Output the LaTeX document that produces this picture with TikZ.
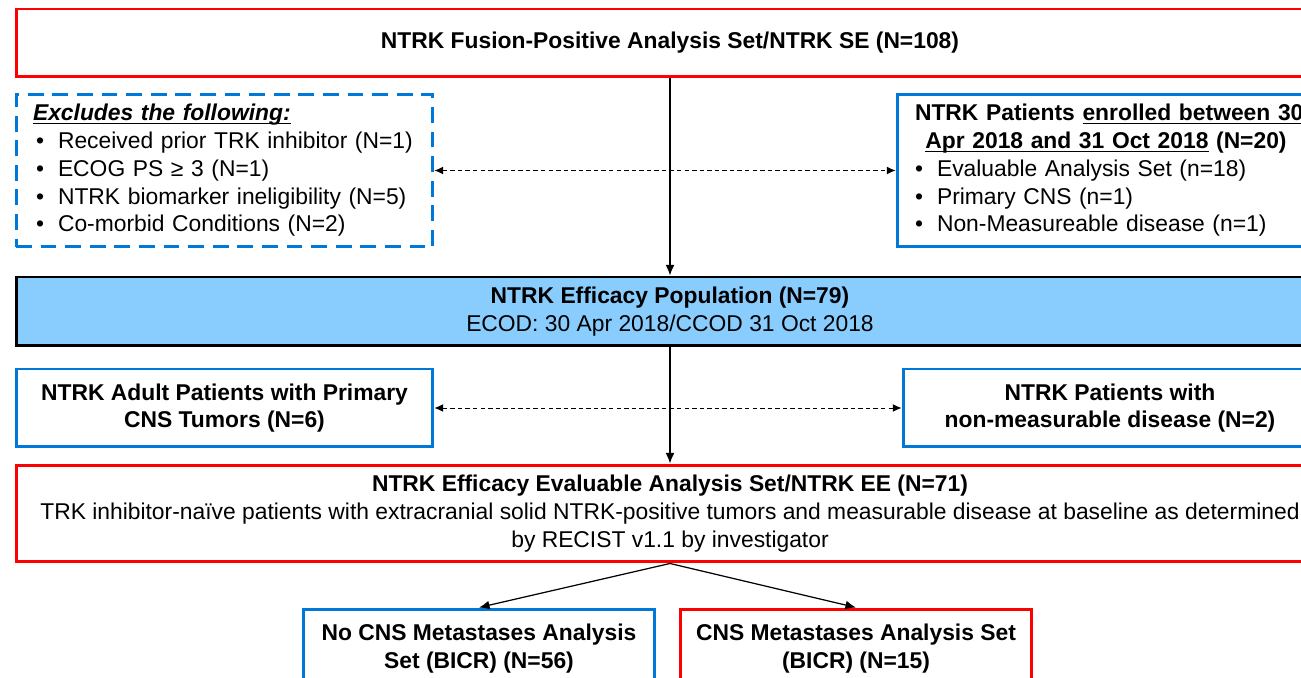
\documentclass[tikz,border=0pt]{standalone}
\usepackage{fontspec}
\setmainfont{Liberation Sans}
\usetikzlibrary{arrows.meta}
\definecolor{boxred}{RGB}{255,0,0}
\definecolor{boxblue}{RGB}{0,120,215}
\definecolor{efffill}{RGB}{137,205,255}
\newcommand{\undl}[1]{\underline{\raisebox{0pt}[\height][0pt]{#1}}}
\begin{document}
\begin{tikzpicture}[x=0.02cm,y=-0.02cm,
		every node/.style={font=\fontsize{13pt}{15.8pt}\selectfont, inner sep=0pt},
		redbox/.style={draw=boxred, line width=1.7pt, align=center},
		bluebox/.style={draw=boxblue, line width=1.7pt, align=center},
		dashbox/.style={draw=boxblue, line width=1.7pt, dash pattern=on 9pt off 5pt},
		effbox/.style={draw=black, fill=efffill, line width=1.7pt, align=center},
		arr/.style={-{Latex[length=6pt,width=5pt]}, line width=0.7pt},
		darr/.style={{Latex[length=5pt,width=4.5pt]}-{Latex[length=5pt,width=4.5pt]}, line width=0.5pt, dash pattern=on 2.5pt off 1.8pt}]
	\useasboundingbox (0,0) rectangle (1301,678);
	\clip (0,0) rectangle (1301,678);
	\node (Fu) at (670,43) [redbox, minimum width=26.16cm, minimum height=1.36cm] {\bfseries NTRK Fusion-Positive Analysis Set/NTRK SE (N=108)};
	\node (Ex) at (224.5,170.5) [dashbox, text width=7.66cm, inner xsep=0.34cm, minimum height=3.06cm, align=left]
		{\textbf{\textit{\undl{Excludes the following:}}}\\
		\hspace*{0.06cm}\textbullet\hspace{0.28cm}Received prior TRK inhibitor (N=1)\\
		\hspace*{0.06cm}\textbullet\hspace{0.28cm}ECOG PS ≥ 3 (N=1)\\
		\hspace*{0.06cm}\textbullet\hspace{0.28cm}NTRK biomarker ineligibility (N=5)\\
		\hspace*{0.06cm}\textbullet\hspace{0.28cm}Co-morbid Conditions (N=2)};
	\node (En) at (1106,170.5) [bluebox, text width=7.64cm, inner xsep=0.36cm, minimum height=3.06cm, align=left]
		{{\centering\bfseries\mbox{NTRK Patients \undl{enrolled between 30}}\\
		\mbox{\undl{Apr 2018 and 31 Oct 2018} (N=20)}\par}
		\textbullet\hspace{0.28cm}Evaluable Analysis Set (n=18)\\
		\textbullet\hspace{0.28cm}Primary CNS (n=1)\\
		\textbullet\hspace{0.28cm}Non-Measureable disease (n=1)};
	\node (Ef) at (670,311.5) [effbox, minimum width=26.16cm, minimum height=1.38cm] {\textbf{NTRK Efficacy Population (N=79)}\\ECOD: 30 Apr 2018/CCOD 31 Oct 2018};
	\node (Ad) at (224.5,408) [bluebox, minimum width=8.34cm, minimum height=1.56cm] {\bfseries NTRK Adult Patients with Primary\\\bfseries CNS Tumors (N=6)};
	\node (Nm) at (1110,408) [bluebox, minimum width=8.28cm, minimum height=1.56cm] {\bfseries NTRK Patients with\\\bfseries non-measurable disease (N=2)};
	\node (Ee) at (670,513.5) [redbox, minimum width=26.16cm, minimum height=1.94cm] {\textbf{NTRK Efficacy Evaluable Analysis Set/NTRK EE (N=71)}\\TRK inhibitor-naïve patients with extracranial solid NTRK-positive tumors and measurable disease at baseline as determined\\by RECIST v1.1 by investigator};
	\node (No) at (479,648.5) [bluebox, minimum width=7.04cm, minimum height=1.58cm] {\bfseries No CNS Metastases Analysis\\\bfseries Set (BICR) (N=56)};
	\node (Cn) at (856,648.5) [redbox, minimum width=7.04cm, minimum height=1.58cm] {\bfseries CNS Metastases Analysis Set\\\bfseries (BICR) (N=15)};
	\draw[arr] (Fu) -- (Ef);
	\draw[arr] (Ef) -- (Ee);
	\draw[darr] (Ex.east) -- (En.west);
	\draw[darr] (Ad) -- (Nm);
	\draw[arr] (Ee.south) -- (No.north);
	\draw[arr] (Ee.south) -- (Cn.north);
\end{tikzpicture}
\end{document}
